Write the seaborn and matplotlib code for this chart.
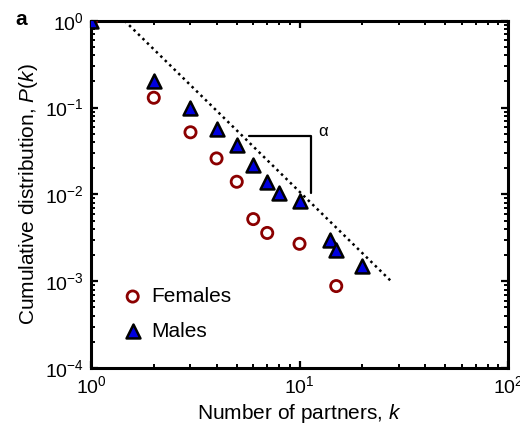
import matplotlib
matplotlib.use("Agg")
import matplotlib.pyplot as plt
from matplotlib.ticker import LogLocator, NullFormatter
import pandas as pd
import seaborn as sns

# Cumulative distribution P(k) of the number of sexual partners k
males_k = [1, 2, 3, 4, 5, 6, 7, 8, 10, 14, 15, 20]
males_p = [1.0, 0.20, 0.10, 0.057, 0.037, 0.022, 0.014, 0.0105, 0.0085,
           0.0030, 0.0023, 0.0015]
females_k = [1, 2, 3, 4, 5, 6, 7, 10, 15]
females_p = [1.0, 0.13, 0.052, 0.026, 0.014, 0.0052, 0.0036, 0.0027, 0.00088]

# Power-law guide line and slope marker
guide_k = [1.45, 27.5]
guide_p = [1.0, 0.001]
slope_k = [5.75, 11.4, 11.4]
slope_p = [0.0476, 0.0476, 0.0105]

males = pd.DataFrame({"k": males_k, "P": males_p})
females = pd.DataFrame({"k": females_k, "P": females_p})
guide = pd.DataFrame({"k": guide_k, "P": guide_p})
slope = pd.DataFrame({"k": slope_k, "P": slope_p})

sns.set_style("ticks")
plt.rcParams["font.family"] = ["Liberation Sans", "DejaVu Sans"]
plt.rcParams["mathtext.fontset"] = "custom"
plt.rcParams["mathtext.rm"] = "Liberation Sans"
plt.rcParams["mathtext.it"] = "Liberation Sans:italic"
plt.rcParams["text.color"] = "black"
plt.rcParams["axes.labelcolor"] = "black"
plt.rcParams["xtick.color"] = "black"
plt.rcParams["ytick.color"] = "black"

fig = plt.figure(figsize=(5.2, 4.25), dpi=100)
ax = fig.add_axes([0.175, 0.134, 0.802, 0.817])

ax.set_xscale("log")
ax.set_yscale("log")

sns.lineplot(data=guide, x="k", y="P", ax=ax, color="black", lw=1.8,
             dashes=False, linestyle=(0, (1, 1.5)), zorder=2)
sns.lineplot(data=slope, x="k", y="P", ax=ax, color="black", lw=1.6,
             sort=False, estimator=None, zorder=2)

sns.scatterplot(data=females, x="k", y="P", ax=ax, marker="o", s=65,
                facecolor="none", edgecolor="#8b0000", linewidth=2,
                label="Females", zorder=3)
sns.scatterplot(data=males, x="k", y="P", ax=ax, marker="^", s=100,
                color="#0000e0", edgecolor="black", linewidth=1.8,
                label="Males", zorder=4)

ax.text(12.9, 0.053, "α", fontsize=12, ha="center", va="center")

ax.set_xlim(1, 100)
ax.set_ylim(1e-4, 1)

ax.set_xlabel(r"Number of partners, $k$", fontsize=15, labelpad=4)
ax.set_ylabel(r"Cumulative distribution, $P(k)$", fontsize=15, labelpad=4)

ax.xaxis.set_major_locator(LogLocator(base=10, numticks=10))
ax.yaxis.set_major_locator(LogLocator(base=10, numticks=10))
ax.xaxis.set_minor_locator(LogLocator(base=10, subs=range(2, 10), numticks=20))
ax.yaxis.set_minor_locator(LogLocator(base=10, subs=range(2, 10), numticks=20))
ax.xaxis.set_minor_formatter(NullFormatter())
ax.yaxis.set_minor_formatter(NullFormatter())

ax.tick_params(which="both", direction="in", top=True, right=True,
               labelsize=14, pad=5)
ax.tick_params(which="major", length=5, width=1.6)
ax.tick_params(which="minor", length=3, width=1.4)
for sp in ax.spines.values():
    sp.set_linewidth(2.2)
    sp.set_color("black")

leg = ax.legend(loc="lower left", bbox_to_anchor=(0.055, 0.055), frameon=False,
                fontsize=15, handlelength=1.0, handletextpad=0.4,
                labelspacing=0.75, borderaxespad=0)

fig.text(0.03, 0.955, "a", fontsize=15, fontweight="bold", ha="left", va="center")

fig.savefig("out.png", dpi=100)
